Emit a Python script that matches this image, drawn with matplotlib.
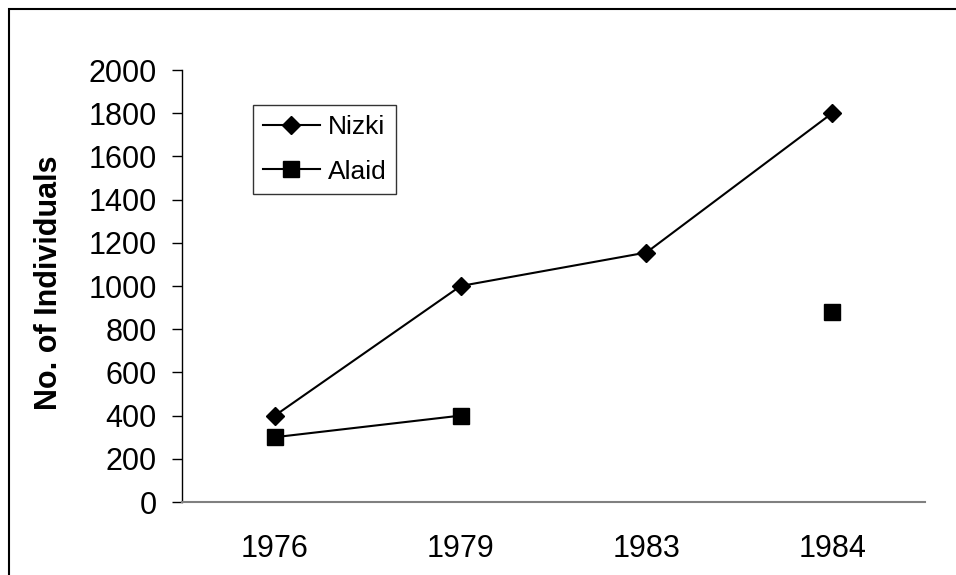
import matplotlib
matplotlib.use("Agg")
import matplotlib.pyplot as plt
import numpy as np
from matplotlib.patches import Rectangle

plt.rcParams['font.family'] = ['Liberation Sans', 'DejaVu Sans']

years = ["1976", "1979", "1983", "1984"]
nizki = [400, 1000, 1155, 1800]
alaid = [300, 400, np.nan, 880]
y_ticks = [0, 200, 400, 600, 800, 1000, 1200, 1400, 1600, 1800, 2000]

W, H = 956, 575
fig = plt.figure(figsize=(W / 100, H / 100), dpi=100)
ax = fig.add_axes([182 / W, 1 - 502 / H, (925 - 182) / W, (502 - 70) / H])

x = np.arange(len(years))
ax.plot(x, nizki, color='black', lw=1.5, marker='D', ms=9, label='Nizki')
ax.plot(x, alaid, color='black', lw=1.5, marker='s', ms=11, label='Alaid')

ax.set_xlim(-0.5, len(years) - 0.5)
ax.set_ylim(0, 2000)
ax.set_yticks(y_ticks)
ax.set_xticks(x)
ax.set_xticklabels(years)
ax.tick_params(axis='y', direction='out', length=7, width=1, labelsize=22, pad=11)
ax.tick_params(axis='x', length=0, labelsize=22, pad=23)
for s in ['top', 'right']:
    ax.spines[s].set_visible(False)
ax.spines['left'].set_color('black')
ax.spines['left'].set_linewidth(1)
ax.spines['bottom'].set_color('#808080')
ax.spines['bottom'].set_linewidth(1.5)

ax.set_ylabel('No. of Individuals', fontsize=22, fontweight='bold')
ax.yaxis.set_label_coords((64 - 182) / (925 - 182), 0.5 - ((282.5 - 286) / (502 - 70)))

leg = ax.legend(loc='upper left', bbox_to_anchor=((253 - 182) / (925 - 182), 1 - (105 - 70) / (502 - 70)),
                frameon=True, fancybox=False, edgecolor='black', fontsize=19,
                handlelength=2.15, handletextpad=0.3, borderpad=0.38, labelspacing=0.78, borderaxespad=0)
leg.get_frame().set_linewidth(1)

fig.patches.append(Rectangle((9 / W, -0.1), 1.2, 1 - 9 / H + 0.1, transform=fig.transFigure,
                             fill=False, edgecolor='black', lw=1.5))

fig.savefig('out.png', dpi=100)
